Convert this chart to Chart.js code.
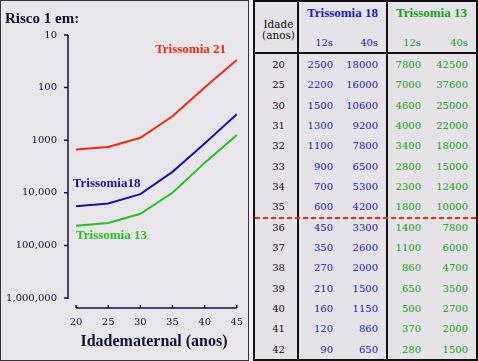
<!DOCTYPE html>
<html><head><meta charset="utf-8">
<script src="https://cdn.jsdelivr.net/npm/chart.js@4"></script>
<style>
html,body{margin:0;padding:0;width:478px;height:361px;overflow:hidden;background:#f2f0f4;}
#left{position:absolute;left:0;top:0;width:249px;height:361px;box-sizing:border-box;border:1px solid #34343e;background:#e8e6eb;}
#cwrap{position:absolute;left:0;top:0;width:249px;height:361px;}
#title{position:absolute;left:5px;top:10px;line-height:16px;font:bold 15px "Liberation Serif";color:#0d0d2a;white-space:nowrap;}
#right{position:absolute;left:253px;top:0;width:225px;height:361px;box-sizing:border-box;border:2px solid #111;background:#e5e3e8;font-family:"DejaVu Serif";}
.abs{position:absolute;white-space:nowrap;}
.num{font-size:10px;line-height:20px;height:20px;}
.hdr{font:bold 13px "Liberation Serif";line-height:16px;text-align:center;}
.sub{font-size:10px;line-height:12px;text-align:right;width:40px;}
.blue{color:#2020c4;} .green{color:#14a414;}
</style></head>
<body>
<div id="left"></div>
<div id="cwrap"><canvas id="c" width="249" height="361"></canvas></div>
<div id="title">Risco 1 em:</div>
<div id="right"></div>
<script>
// ---- chart data ----
const ages = [20, 25, 30, 35, 40, 45];
const t21 = [1500, 1350, 900, 350, 100, 30];
const t18 = [18000, 16000, 10600, 4000, 1150, 320];
const t13 = [42500, 37600, 25000, 10000, 2700, 800];
const seriesNames = ['Trissomia 21', 'Trissomia18', 'Trissomia 13'];
const xTicks = [20, 25, 30, 35, 40, 45];
const yTicks = [10, 100, 1000, 10000, 100000, 1000000];
const yTickLabels = ['10', '100', '1000', '10,000', '100,000', '1,000,000'];

// ---- table data ----
const tableAges = [20, 25, 30, 31, 32, 33, 34, 35, 36, 37, 38, 39, 40, 41, 42];
const t18_12s = [2500, 2200, 1500, 1300, 1100, 900, 700, 600, 450, 350, 270, 210, 160, 120, 90];
const t18_40s = [18000, 16000, 10600, 9200, 7800, 6500, 5300, 4200, 3300, 2600, 2000, 1500, 1150, 860, 650];
const t13_12s = [7800, 7000, 4600, 4000, 3400, 2800, 2300, 1800, 1400, 1100, 860, 650, 500, 370, 280];
const t13_40s = [42500, 37600, 25000, 22000, 18000, 15000, 12400, 10000, 7800, 6000, 4700, 3500, 2700, 2000, 1500];
const cutoffAge = 35;

const RED = '#ee2a12', BLUE = '#1c10ac', GREEN = '#22c422', INK = '#12123a';

const axesPlugin = {
  id: 'axesPlugin',
  afterDraw(chart) {
    const {ctx, chartArea, scales: {x, y}} = chart;
    ctx.save();
    ctx.strokeStyle = INK; ctx.lineWidth = 1.5;
    const x0 = chartArea.left;
    ctx.beginPath();
    ctx.moveTo(x0, y.getPixelForValue(yTicks[0]));
    ctx.lineTo(x0, y.getPixelForValue(yTicks[yTicks.length - 1]) + 1);
    yTicks.forEach(v => { const py = y.getPixelForValue(v); ctx.moveTo(x0 - 4, py); ctx.lineTo(x0, py); });
    const ay = chartArea.bottom + 10;
    ctx.moveTo(x.getPixelForValue(xTicks[0]), ay);
    ctx.lineTo(x.getPixelForValue(xTicks[xTicks.length - 1]), ay);
    xTicks.forEach(v => { const px = x.getPixelForValue(v); ctx.moveTo(px, ay); ctx.lineTo(px, ay - 3); });
    ctx.stroke();
    ctx.restore();
  }
};
const labelPlugin = {
  id: 'labelPlugin',
  afterDatasetsDraw(chart) {
    const {ctx, scales: {x, y}} = chart;
    ctx.save();
    ctx.font = 'bold 13px "Liberation Serif"';
    ctx.textBaseline = 'middle'; ctx.textAlign = 'left';
    chart.data.datasets.forEach(ds => {
      ctx.fillStyle = ds.borderColor;
      ctx.fillText(ds.label, x.getPixelForValue(ds.labelAt.x), y.getPixelForValue(ds.labelAt.y));
    });
    ctx.restore();
  }
};

new Chart(document.getElementById('c'), {
  type: 'line',
  data: {
    labels: ages,
    datasets: [
      {label: seriesNames[0], data: ages.map((a, i) => ({x: a, y: t21[i]})), borderColor: RED, labelAt: {x: 32.3, y: 19.3}},
      {label: seriesNames[1], data: ages.map((a, i) => ({x: a, y: t18[i]})), borderColor: BLUE, labelAt: {x: 19.5, y: 6800}},
      {label: seriesNames[2], data: ages.map((a, i) => ({x: a, y: t13[i]})), borderColor: GREEN, labelAt: {x: 20, y: 66000}}
    ].map(d => Object.assign(d, {borderWidth: 2, pointRadius: 0, tension: 0, fill: false, clip: false}))
  },
  options: {
    responsive: false, animation: false,
    layout: {padding: {top: 35, right: 9, bottom: 0, left: 0}},
    plugins: {legend: {display: false}, tooltip: {enabled: false}},
    scales: {
      x: {
        type: 'linear', min: 18.75, max: 45.5,
        afterBuildTicks: s => { s.ticks = xTicks.map(v => ({value: v})); },
        afterFit: s => { s.height = 63; s.paddingLeft = 0; s.paddingRight = 0; },
        grid: {display: false, drawTicks: false}, border: {display: false},
        ticks: {autoSkip: false, maxRotation: 0, padding: 18, color: INK, font: {family: 'DejaVu Serif', size: 10}, callback: v => String(v)},
        title: {display: true, text: 'Idadematernal (anos)', color: INK, font: {family: 'Liberation Serif', size: 16, weight: 'bold'}, padding: {top: 0, bottom: 10}}
      },
      y: {
        type: 'logarithmic', reverse: true, min: 10, max: 1000000,
        afterBuildTicks: s => { s.ticks = yTicks.map(v => ({value: v})); },
        afterFit: s => { s.width = 68; s.paddingTop = 0; s.paddingBottom = 0; },
        grid: {display: false, drawTicks: false}, border: {display: false},
        ticks: {autoSkip: false, padding: 11, color: INK, font: {family: 'DejaVu Serif', size: 10},
          callback: v => { const i = yTicks.indexOf(v); return i >= 0 ? yTickLabels[i] : ''; }}
      }
    }
  },
  plugins: [axesPlugin, labelPlugin]
});

// ---- table ----
const R = document.getElementById('right');
function add(html, cls, style) { const d = document.createElement('div'); d.className = 'abs ' + cls; d.style.cssText = style; d.innerHTML = html; R.appendChild(d); return d; }
add('Idade<br>(anos)', '', 'left:2px;width:43px;top:17px;line-height:11px;font-size:10.5px;text-align:center;color:#111;');
add('Trissomia 18', 'hdr blue', 'left:43px;width:89px;top:3px;');
add('Trissomia 13', 'hdr green', 'left:132px;width:89px;top:3px;');
const colRights = [78, 123, 166, 213];
const colCls = ['blue', 'blue', 'green', 'green'];
const subLabels = ['12s', '40s', '12s', '40s'];
subLabels.forEach((t, k) => add(t, 'sub ' + colCls[k], `left:${colRights[k] - 40}px;top:35px;`));
const cols = [t18_12s, t18_40s, t13_12s, t13_40s];
tableAges.forEach((age, i) => {
  const top = 52.8 + i * 20.36;
  add(String(age), 'num', `left:2px;width:43px;text-align:center;top:${top}px;color:#111;`);
  cols.forEach((arr, k) => add(String(arr[i]), 'num ' + colCls[k], `left:${colRights[k] - 50}px;width:50px;text-align:right;top:${top}px;`));
});
// rules
add('', '', 'left:42px;top:0;width:2px;height:357px;background:#111;');
add('', '', 'left:131px;top:0;width:2px;height:357px;background:#111;');
add('', '', 'left:0;top:50px;width:221px;height:2px;background:#111;');
const cutIdx = tableAges.indexOf(cutoffAge) + 1;
add('', '', `left:0;top:${52.8 + cutIdx * 20.36 - 1}px;width:221px;height:2px;background:repeating-linear-gradient(to right,${RED} 0 5px,transparent 5px 8px);`);
</script>
</body></html>
